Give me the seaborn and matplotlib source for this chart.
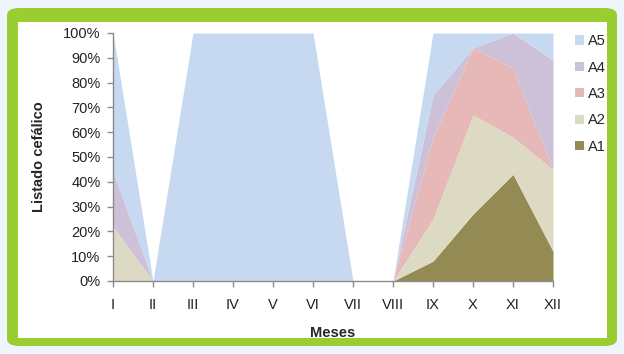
import matplotlib
matplotlib.use("Agg")
import matplotlib.pyplot as plt
from matplotlib.patches import FancyBboxPatch, Rectangle
from matplotlib.ticker import PercentFormatter
import seaborn as sns

# Monthly share (%) of each head-lice category
meses = ["I", "II", "III", "IV", "V", "VI", "VII", "VIII", "IX", "X", "XI", "XII"]
a1 = [0, 0, 0, 0, 0, 0, 0, 0, 8, 27, 43, 12]
a2 = [22, 0, 0, 0, 0, 0, 0, 0, 17, 40, 15, 33]
a3 = [0, 0, 0, 0, 0, 0, 0, 0, 33, 27, 28, 0]
a4 = [22, 0, 0, 0, 0, 0, 0, 0, 17, 0, 14, 44]
a5 = [56, 0, 100, 100, 100, 100, 0, 0, 25, 6, 0, 11]
series_names = ["A1", "A2", "A3", "A4", "A5"]
colors = ["#948a54", "#dddac4", "#e6b9b8", "#cdc1da", "#c6d9f0"]

sns.set_theme(style="white")
plt.rcParams["font.family"] = ["Liberation Sans", "DejaVu Sans"]

fig = plt.figure(figsize=(6.24, 3.54), dpi=100)
fig.patch.set_facecolor("#eef5fc")

W, H = 624, 354
# green frame and white panel
fig.patches.append(FancyBboxPatch((7 / W, 1 - 346 / H), 610 / W, 338 / H,
                                  boxstyle="round,pad=0,rounding_size=0.02",
                                  transform=fig.transFigure, facecolor="#9acd32",
                                  edgecolor="none", zorder=-2))
fig.patches.append(Rectangle((18 / W, 1 - 338 / H), 589 / W, 316 / H,
                             transform=fig.transFigure, facecolor="white",
                             edgecolor="none", zorder=-1))

ax = fig.add_axes([113 / W, 1 - 281 / H, 440 / W, 248 / H])
ax.set_zorder(2)
ax.set_facecolor("none")
x = list(range(len(meses)))
polys = ax.stackplot(x, a1, a2, a3, a4, a5, colors=colors, labels=series_names,
                     linewidth=0)

ax.set_xlim(0, len(meses) - 1)
ax.set_ylim(0, 100)
ax.set_xticks(x)
ax.set_xticklabels(meses, fontsize=10.5)
ax.set_yticks(range(0, 101, 10))
ax.yaxis.set_major_formatter(PercentFormatter(100, decimals=0))
ax.tick_params(axis="y", labelsize=10.5, length=4, width=1, color="#8c8c8c",
               direction="out", left=True, pad=5, labelcolor="#222222")
ax.tick_params(axis="x", labelsize=10.5, length=4, width=1, color="#8c8c8c",
               direction="out", bottom=True, pad=8, labelcolor="#222222")
for side in ["top", "right"]:
    ax.spines[side].set_visible(False)
for side in ["left", "bottom"]:
    ax.spines[side].set_color("#8c8c8c")
    ax.spines[side].set_linewidth(1)

ax.set_xlabel("Meses", fontsize=10.5, fontweight="bold", labelpad=10)
ax.set_ylabel("Listado cefálico", fontsize=10.5, fontweight="bold", labelpad=12)

handles, labels = ax.get_legend_handles_labels()
leg = fig.legend(handles[::-1], labels[::-1], loc="upper left",
                 bbox_to_anchor=(562 / W, 1 - 21 / H), frameon=False,
                 fontsize=10.5, handlelength=0.6, handleheight=0.6,
                 handletextpad=0.25, labelspacing=0.85)
leg.set_zorder(3)

fig.savefig("out.png", dpi=100, facecolor=fig.get_facecolor())
